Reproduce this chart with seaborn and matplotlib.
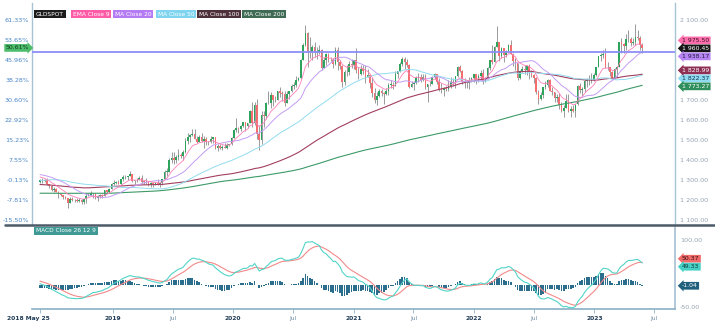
import numpy as np
import pandas as pd
import matplotlib
matplotlib.use("Agg")
import matplotlib.pyplot as plt
import matplotlib.dates as mdates
from matplotlib import transforms
from matplotlib.lines import Line2D
import seaborn as sns

# Weekly gold closes before the first visible bar (moving-average / MACD warm-up),
# Fridays 2014-07-25 .. 2018-05-18
prior_close = [
    1304, 1294, 1309, 1305, 1280, 1287, 1268, 1230, 1216, 1218, 1192, 1222, 1238, 1231, 1171,
    1169, 1186, 1199, 1175, 1191, 1222, 1195, 1195,
    1186, 1216, 1277, 1293, 1279, 1234, 1227, 1203, 1213, 1167, 1153, 1182, 1199, 1201, 1207,
    1203, 1175, 1175, 1189, 1225, 1205, 1190, 1168, 1179, 1201, 1173, 1168, 1158, 1131, 1099,
    1095, 1094, 1113, 1159, 1134, 1121, 1108, 1137, 1145, 1137, 1156, 1177, 1163, 1142, 1088,
    1081, 1076, 1057, 1085, 1075, 1066, 1076,
    1061, 1105, 1089, 1097, 1117, 1157, 1239, 1227, 1222, 1271, 1259, 1254, 1218, 1222, 1244,
    1235, 1231, 1292, 1290, 1273, 1253, 1212, 1242, 1276, 1298, 1315, 1340, 1366, 1327, 1322,
    1351, 1336, 1336, 1341, 1321, 1326, 1328, 1310, 1338, 1316, 1257, 1251, 1266, 1275, 1304,
    1225, 1207, 1183, 1177, 1160, 1134, 1132, 1152,
    1173, 1197, 1205, 1190, 1220, 1234, 1238, 1257, 1226, 1201, 1229, 1244, 1249, 1253, 1286,
    1284, 1268, 1228, 1227, 1254, 1267, 1279, 1266, 1254, 1256, 1241, 1212, 1228, 1254, 1269,
    1258, 1289, 1285, 1291, 1325, 1346, 1320, 1297, 1280, 1274, 1303, 1280, 1273, 1269, 1274,
    1293, 1288, 1280, 1248, 1256, 1275, 1303,
    1320, 1338, 1332, 1349, 1333, 1315, 1347, 1330, 1322, 1323, 1313, 1347, 1325, 1332, 1345,
    1336, 1323, 1314, 1320, 1292,
]

# Visible weekly bars, Fridays 2018-05-25 .. 2023-05-26
close = [
    1301.7, 1294, 1298, 1278, 1269, 1252, 1255, 1241, 1231, 1223, 1214, 1212, 1184, 1206, 1201,
    1198, 1194, 1199, 1192, 1203, 1222, 1227, 1233, 1233, 1209, 1222, 1223, 1222, 1248, 1238,
    1257, 1281,
    1285, 1288, 1282, 1303, 1317, 1314, 1322, 1328, 1294, 1298, 1302, 1312, 1292, 1291, 1290,
    1276, 1286, 1280, 1285, 1276, 1284, 1305, 1341, 1341, 1399, 1409, 1400, 1415, 1426, 1419,
    1440, 1497, 1513, 1527, 1529, 1507, 1488, 1517, 1497, 1505, 1489, 1490, 1505, 1514, 1459,
    1468, 1462, 1464, 1460, 1476, 1478, 1511,
    1552, 1562, 1557, 1571, 1589, 1570, 1584, 1643, 1586, 1674, 1529, 1499, 1627, 1620, 1683,
    1683, 1726, 1700, 1702, 1743, 1734, 1730, 1685, 1730, 1743, 1771, 1775, 1798, 1810, 1902,
    1975, 2035, 1944, 1940, 1964, 1934, 1940, 1950, 1861, 1899, 1930, 1899, 1902, 1878, 1951,
    1888, 1871, 1788, 1839, 1839, 1881, 1877,
    1898, 1849, 1828, 1855, 1847, 1813, 1824, 1784, 1734, 1700, 1719, 1745, 1733, 1729, 1744,
    1777, 1777, 1768, 1831, 1843, 1881, 1903, 1891, 1877, 1764, 1781, 1783, 1808, 1815, 1802,
    1814, 1763, 1779, 1781, 1817, 1828, 1788, 1754, 1750, 1761, 1757, 1768, 1792, 1783, 1818,
    1864, 1845, 1792, 1783, 1783, 1798, 1810, 1828,
    1797, 1818, 1835, 1792, 1808, 1859, 1898, 1889, 1966, 1988, 1921, 1958, 1925, 1946, 1975,
    1931, 1897, 1883, 1811, 1846, 1853, 1850, 1871, 1840, 1827, 1811, 1742, 1703, 1727, 1766,
    1775, 1802, 1747, 1738, 1712, 1716, 1675, 1644, 1660, 1694, 1644, 1656, 1644, 1681, 1771,
    1751, 1755, 1797, 1797, 1793, 1798, 1824,
    1865, 1920, 1926, 1928, 1865, 1865, 1842, 1811, 1855, 1867, 1989, 1978, 1969, 2007, 2004,
    1983, 1990, 2016, 2011, 1977, 1960.45,
]
high = [
    1306, 1308, 1303, 1309, 1280, 1273, 1264, 1262, 1245, 1236, 1227, 1222, 1212, 1214, 1214,
    1207, 1211, 1211, 1204, 1207, 1233, 1233, 1243, 1237, 1237, 1225, 1230, 1230, 1250, 1250,
    1261, 1284,
    1298, 1295, 1298, 1305, 1327, 1326, 1322, 1346, 1331, 1300, 1311, 1320, 1325, 1300, 1310,
    1291, 1288, 1290, 1290, 1304, 1289, 1306, 1348, 1358, 1411, 1439, 1438, 1426, 1453, 1433,
    1449, 1510, 1535, 1528, 1555, 1557, 1522, 1525, 1535, 1519, 1517, 1496, 1518, 1515, 1514,
    1478, 1479, 1475, 1486, 1486, 1481, 1514,
    1553, 1611, 1563, 1573, 1589, 1592, 1585, 1649, 1689, 1692, 1703, 1575, 1646, 1645, 1690,
    1747, 1738, 1722, 1722, 1743, 1765, 1745, 1745, 1744, 1746, 1779, 1789, 1818, 1815, 1907,
    1984, 2075, 2039, 2016, 1977, 1992, 1966, 1973, 1955, 1917, 1933, 1933, 1916, 1911, 1965,
    1965, 1900, 1876, 1848, 1875, 1896, 1906,
    1900, 1959, 1864, 1874, 1875, 1875, 1855, 1826, 1816, 1760, 1740, 1755, 1755, 1742, 1758,
    1784, 1798, 1790, 1843, 1846, 1890, 1913, 1916, 1903, 1878, 1795, 1795, 1818, 1834, 1832,
    1832, 1832, 1782, 1795, 1822, 1834, 1827, 1808, 1787, 1765, 1770, 1801, 1814, 1810, 1818,
    1869, 1877, 1850, 1808, 1793, 1815, 1814, 1831,
    1831, 1830, 1848, 1853, 1814, 1865, 1902, 1974, 1970, 2070, 1989, 1966, 1960, 1948, 1982,
    1998, 1937, 1910, 1884, 1849, 1870, 1874, 1876, 1880, 1848, 1831, 1813, 1752, 1739, 1767,
    1795, 1807, 1803, 1765, 1740, 1729, 1735, 1688, 1676, 1729, 1730, 1668, 1675, 1682, 1774,
    1786, 1764, 1804, 1810, 1824, 1833, 1833,
    1865, 1922, 1935, 1949, 1960, 1890, 1858, 1847, 1858, 1871, 1989, 2009, 1984, 2032, 2048,
    2015, 2009, 2079, 2048, 2022, 1985,
]
low = [
    1286, 1286, 1291, 1275, 1261, 1245, 1238, 1238, 1211, 1220, 1204, 1206, 1160, 1183, 1195,
    1189, 1191, 1191, 1180, 1181, 1185, 1221, 1221, 1211, 1206, 1196, 1212, 1212, 1221, 1234,
    1236, 1256,
    1277, 1280, 1279, 1275, 1297, 1303, 1302, 1320, 1290, 1281, 1289, 1298, 1281, 1281, 1282,
    1270, 1266, 1266, 1276, 1275, 1266, 1277, 1305, 1320, 1340, 1384, 1381, 1386, 1402, 1412,
    1400, 1437, 1480, 1492, 1520, 1504, 1484, 1490, 1490, 1459, 1475, 1476, 1483, 1486, 1456,
    1445, 1456, 1452, 1459, 1456, 1471, 1476,
    1516, 1540, 1536, 1546, 1564, 1547, 1561, 1584, 1563, 1575, 1504, 1451, 1482, 1566, 1607,
    1680, 1659, 1672, 1688, 1700, 1717, 1693, 1670, 1688, 1704, 1741, 1757, 1763, 1795, 1807,
    1900, 1968, 1863, 1911, 1902, 1916, 1906, 1930, 1849, 1873, 1873, 1891, 1894, 1859, 1877,
    1850, 1853, 1765, 1775, 1819, 1823, 1859,
    1855, 1833, 1803, 1826, 1831, 1785, 1817, 1761, 1717, 1687, 1677, 1717, 1721, 1678, 1724,
    1727, 1762, 1756, 1769, 1808, 1839, 1872, 1856, 1866, 1761, 1767, 1750, 1782, 1791, 1788,
    1795, 1756, 1690, 1772, 1779, 1806, 1782, 1745, 1737, 1721, 1746, 1745, 1760, 1770, 1759,
    1817, 1840, 1782, 1762, 1762, 1753, 1788, 1789,
    1782, 1789, 1806, 1780, 1788, 1807, 1849, 1878, 1889, 1966, 1895, 1910, 1890, 1915, 1940,
    1931, 1872, 1850, 1799, 1807, 1840, 1829, 1826, 1805, 1817, 1785, 1732, 1681, 1698, 1711,
    1754, 1764, 1745, 1727, 1688, 1690, 1654, 1639, 1615, 1660, 1640, 1617, 1638, 1616, 1676,
    1736, 1721, 1740, 1767, 1773, 1784, 1796,
    1822, 1865, 1896, 1911, 1861, 1852, 1819, 1809, 1804, 1809, 1867, 1934, 1934, 1950, 1992,
    1969, 1975, 1976, 2000, 1952, 1937,
]

prior_start = "2014-07-25"
first_bar = "2018-05-25"

tick_dates = ["2018-05-25", "2019-01-01", "2019-07-01", "2020-01-01", "2020-07-01",
              "2021-01-01", "2021-07-01", "2022-01-01", "2022-07-01", "2023-01-01", "2023-07-01"]
tick_labels = ["2018 May 25", "2019", "Jul", "2020", "Jul", "2021", "Jul", "2022", "Jul", "2023", "Jul"]

price_ticks = [1100, 1200, 1300, 1400, 1500, 1600, 1700, 1800, 1900, 2000, 2100]
macd_ticks = [100, -50]

series_names = ["GLDSPOT", "EMA Close 9", "MA Close 20", "MA Close 50", "MA Close 100", "MA Close 200"]
macd_name = "MACD Close 26 12 9"

# ---------------------------------------------------------------- indicators
n_prior = len(prior_close)
dates = pd.date_range(prior_start, periods=n_prior + len(close), freq="W-FRI")
closes = pd.Series(np.array(prior_close + close, float), index=dates)

ema9 = closes.ewm(span=9, adjust=False).mean()
ma20 = closes.rolling(20).mean()
ma50 = closes.rolling(50).mean()
ma100 = closes.rolling(100).mean()
ma200 = closes.rolling(200).mean()
macd = closes.ewm(span=12, adjust=False).mean() - closes.ewm(span=26, adjust=False).mean()
signal = macd.ewm(span=9, adjust=False).mean()
hist = macd - signal

vdates = dates[n_prior:]
x = mdates.date2num(vdates.to_pydatetime())
c = np.array(close, float)
o = np.concatenate([[prior_close[-1]], c[:-1]])
h = np.maximum(np.array(high, float), np.maximum(o, c))
l = np.minimum(np.array(low, float), np.minimum(o, c))
base = c[0]

# ---------------------------------------------------------------- figure
sns.set_theme(style="white")
plt.rcParams["font.family"] = ["DejaVu Sans"]

W, H = 715, 330
fig = plt.figure(figsize=(W / 100, H / 100), dpi=100)
fig.patch.set_facecolor("white")


def fx(px):
    return px / W


def fy(py):
    return 1 - py / H


AX_L, AX_R = 32, 675
ax = fig.add_axes([fx(AX_L), fy(225), fx(AX_R) - fx(AX_L), fy(3) - fy(225)])
axm = fig.add_axes([fx(AX_L), fy(309), fx(AX_R) - fx(AX_L), fy(227) - fy(309)], sharex=ax)

UP, DOWN, WICK = "#2ea35c", "#f36f6f", "#8a8a8a"
C_EMA9, C_MA20, C_MA50, C_MA100, C_MA200 = "#ff7fb8", "#c39cf4", "#92dcef", "#a23e60", "#3d9a68"
C_MACD, C_SIG, C_HIST = "#52d4c8", "#f28a8a", "#2b6d8c"
AXIS_C = "#a9c3d6"

# candles
ax.vlines(x, l, h, colors=WICK, linewidth=0.6, zorder=2)
body_lo = np.minimum(o, c)
body_h = np.maximum(np.abs(c - o), 2.0)
ax.bar(x, body_h, bottom=body_lo, width=5.0, color=np.where(c >= o, UP, DOWN),
       linewidth=0, zorder=3)

# moving averages
for ser, col, lw in [(ma200, C_MA200, 0.8), (ma100, C_MA100, 0.8), (ma50, C_MA50, 0.7),
                     (ma20, C_MA20, 0.7), (ema9, C_EMA9, 0.6)]:
    sns.lineplot(x=x, y=ser.values[n_prior:], ax=ax, color=col, linewidth=lw,
                 legend=False, zorder=4)

ma20_last = ma20.values[-1]
ax.axhline(ma20_last, color="#8c8ef7", linewidth=1.3, zorder=5)

# x range: weekly spacing ~120.4 px per year
ppd = 120.4 / 365.25
t0 = mdates.date2num(pd.Timestamp(first_bar).to_pydatetime())
ax.set_xlim(t0 - 8 / ppd, t0 + (AX_R - AX_L - 8) / ppd)
ax.set_ylim(1075, 2185)

for s in ["top", "bottom"]:
    ax.spines[s].set_visible(False)
for s in ["left", "right"]:
    ax.spines[s].set_color(AXIS_C)
    ax.spines[s].set_linewidth(1.0)
ax.tick_params(left=False, right=False, bottom=False, labelleft=False, labelbottom=False)
ax.set_yticks([])
ax.set_xlabel("")
ax.set_ylabel("")

# ---------------------------------------------------------------- MACD panel
axm.bar(x, hist.values[n_prior:], width=5.0, color=C_HIST, linewidth=0, zorder=2)
sns.lineplot(x=x, y=signal.values[n_prior:], ax=axm, color=C_SIG, linewidth=0.8,
             legend=False, zorder=3)
sns.lineplot(x=x, y=macd.values[n_prior:], ax=axm, color=C_MACD, linewidth=0.8,
             legend=False, zorder=4)
axm.set_ylim(-52.3, 128.7)
axm.spines["top"].set_visible(False)
axm.spines["left"].set_visible(False)
axm.spines["right"].set_color(AXIS_C)
axm.spines["bottom"].set_color("#8fb3c8")
axm.set_yticks([])
axm.set_ylabel("")
axm.set_xlabel("")

tpos = [mdates.date2num(pd.Timestamp(d).to_pydatetime()) for d in tick_dates]
axm.set_xticks(tpos)
axm.set_xticklabels(tick_labels)
axm.tick_params(axis="x", length=3, width=0.6, color="#8fb3c8", pad=2, labelsize=4.3,
                bottom=True)
for i, t in enumerate(axm.get_xticklabels()):
    if tick_labels[i] == "Jul":
        t.set_color("#6d8ba6")
    else:
        t.set_color("#1f3b57")
        t.set_fontweight("bold")
    if i == 0:
        # first-bar date label sits left of its tick
        t.set_horizontalalignment("left")
        t.set_transform(t.get_transform()
                        + transforms.ScaledTranslation(-33 / 100, 0, fig.dpi_scale_trans))

# ---------------------------------------------------------------- axis labels
def fmt_price(v):
    return f"{v:,.2f}".replace(",", " ")


trL = transforms.blended_transform_factory(ax.transAxes, ax.transData)
axw = AX_R - AX_L
for p in price_ticks:
    ax.text(-3 / axw, p, f"{(p / base - 1) * 100:.2f}%", transform=trL, ha="right",
            va="center", fontsize=4.6, color="#4a86c5", clip_on=False)


def spread(ys, gap):
    ys = np.asarray(ys, float)
    order = np.argsort(ys)
    pos = ys[order].copy()
    for _ in range(200):
        moved = False
        for i in range(1, len(pos)):
            if pos[i] - pos[i - 1] < gap - 1e-6:
                mid = (pos[i] + pos[i - 1]) / 2
                pos[i - 1] = mid - gap / 2
                pos[i] = mid + gap / 2
                moved = True
        if not moved:
            break
    out = np.empty_like(pos)
    out[order] = pos
    return out


def right_tags(axis, items, gap=8.0):
    fig.canvas.draw()
    disp = [axis.transData.transform((0, v))[1] for v, *_ in items]
    placed = spread(disp, gap)
    tr = transforms.blended_transform_factory(axis.transAxes, axis.transData)
    inv = axis.transData.inverted()
    for (v, fc, tc, txt), yd in zip(items, placed):
        yv = inv.transform((0, yd))[1]
        axis.text(1 + 7 / axw, yv, txt, transform=tr, ha="left", va="center",
                  fontsize=4.4, color=tc, clip_on=False, zorder=10,
                  bbox=dict(boxstyle="larrow,pad=0.22", fc=fc, ec="none"))
    return placed


last = c[-1]
main_tags = [
    (ema9.values[-1], "#ff6fae", "#3a1020", fmt_price(ema9.values[-1])),
    (last, "#151515", "white", fmt_price(last)),
    (ma20_last, "#b784f4", "#1d1a40", fmt_price(ma20_last)),
    (ma50.values[-1], "#8fdcf2", "#10324a", fmt_price(ma50.values[-1])),
    (ma100.values[-1], "#8e2f54", "white", fmt_price(ma100.values[-1])),
    (ma200.values[-1], "#2f8f5c", "white", fmt_price(ma200.values[-1])),
]
placed = right_tags(ax, main_tags)

trR = transforms.blended_transform_factory(ax.transAxes, ax.transData)
for p in price_ticks:
    yd = ax.transData.transform((0, p))[1]
    if np.min(np.abs(placed - yd)) < 6:
        continue
    ax.text(1 + 5 / axw, p, fmt_price(p), transform=trR, ha="left", va="center",
            fontsize=4.6, color="#95a3b2", clip_on=False)

# last close as percent on the left
ax.text(-3 / axw, last, f"{(last / base - 1) * 100:.2f}%", transform=trL, ha="right",
        va="center", fontsize=4.4, color="#0f3a1f", clip_on=False, zorder=10,
        bbox=dict(boxstyle="rarrow,pad=0.22", fc="#4cbb6a", ec="none"))

macd_tags = [
    (signal.values[-1], "#f06a6a", "#3a0f0f", f"{signal.values[-1]:.2f}"),
    (macd.values[-1], "#45d0c5", "#0e3a38", f"{macd.values[-1]:.2f}"),
    (hist.values[-1], "#1f5f7c", "white", f"{hist.values[-1]:.2f}"),
]
mplaced = right_tags(axm, macd_tags)
trM = transforms.blended_transform_factory(axm.transAxes, axm.transData)
for m in macd_ticks:
    yd = axm.transData.transform((0, m))[1]
    if np.min(np.abs(mplaced - yd)) < 6:
        continue
    axm.text(1 + 5 / axw, m, f"{m:.2f}", transform=trM, ha="left", va="center",
             fontsize=4.6, color="#95a3b2", clip_on=False)

# ---------------------------------------------------------------- series badges
badge_cols = ["#1c1c1c", "#ff5ca8", "#b57bf5", "#7fd4f0", "#4d3039", "#3f6b55"]
badge_x = [36, 73, 115, 158, 199, 244]
for name, col, bx in zip(series_names, badge_cols, badge_x):
    fig.text(fx(bx), fy(14), name, fontsize=4.2, color="white", ha="left", va="center",
             bbox=dict(boxstyle="square,pad=0.3", fc=col, ec="none"))
fig.text(fx(36), fy(231), macd_name, fontsize=4.2, color="white", ha="left", va="center",
         bbox=dict(boxstyle="square,pad=0.3", fc="#3f9a95", ec="none"))

# panel separator
fig.add_artist(Line2D([fx(5), fx(715)], [fy(225), fy(225)], color="#4d5b69", linewidth=1.8))

fig.savefig("out.png", dpi=100, facecolor="white")
